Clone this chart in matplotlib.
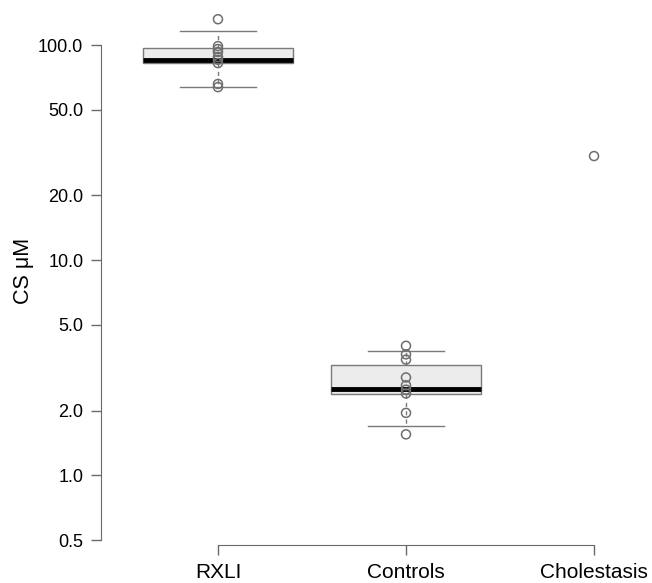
import matplotlib
matplotlib.use("Agg")
import matplotlib.pyplot as plt
import numpy as np

plt.rcParams['font.family'] = ['Liberation Sans', 'DejaVu Sans']

#------------------------------------------------------------------------------
# values (CS in uM)

groups = ["RXLI", "Controls", "Cholestasis"]

rxli = [132.0, 99.0, 96.0, 93.0, 88.0, 85.5, 82.5, 66.0, 63.8]
controls = [4.0, 3.65, 3.45, 2.85, 2.62, 2.5, 2.4, 1.95, 1.55]
cholestasis = [30.5]

# box summaries (lower whisker, q1, median, q3, upper whisker)
rxli_box = [63.8, 82.5, 85.4, 97.0, 116.0]
controls_box = [1.70, 2.38, 2.52, 3.24, 3.78]

yticks = [0.5, 1.0, 2.0, 5.0, 10.0, 20.0, 50.0, 100.0]

#------------------------------------------------------------------------------

fig = plt.figure(figsize=(6.52, 5.83), dpi=100)
ax = fig.add_axes([101.4 / 652, 38 / 583, 609.2 / 652, 532.6 / 583])

stats = []
for name, b in [("RXLI", rxli_box), ("Controls", controls_box)]:
  stats.append(dict(label=name, whislo=b[0], q1=b[1], med=b[2], q3=b[3],
                    whishi=b[4], fliers=[]))

ax.bxp(stats, positions=[1, 2], widths=0.8, patch_artist=True,
       showfliers=False,
       boxprops=dict(facecolor="#ececec", edgecolor="#7a7a7a", linewidth=1.0),
       medianprops=dict(color="black", linewidth=3.5, solid_capstyle="butt"),
       whiskerprops=dict(color="#7a7a7a", linewidth=1.0, linestyle=(0, (3, 3))),
       capprops=dict(color="#7a7a7a", linewidth=1.0),
       capwidths=0.4)

for i, vals in enumerate([rxli, controls, cholestasis]):
  ax.scatter(np.full(len(vals), i + 1), vals, s=42, facecolors="none",
             edgecolors="#6e6e6e", linewidths=1.1, zorder=5)

ax.set_yscale("log")
ax.set_xlim(0.38, 3.62)
ax.set_ylim(0.474, 142)

ax.set_yticks(yticks)
ax.set_yticklabels(["%.1f" % t for t in yticks], fontsize=13)
ax.yaxis.set_minor_locator(matplotlib.ticker.NullLocator())
ax.set_xticks([1, 2, 3])
ax.set_xticklabels(groups, fontsize=15)

for side in ["top", "right"]:
  ax.spines[side].set_visible(False)
ax.spines["left"].set_bounds(0.5, 100)
ax.spines["bottom"].set_bounds(1, 3)
for side in ["left", "bottom"]:
  ax.spines[side].set_color("#6a6a6a")
ax.tick_params(axis="both", colors="#6a6a6a", length=7, width=1,
               labelcolor="black")
ax.tick_params(axis="y", pad=6)
ax.tick_params(axis="x", pad=6)

ax.set_ylabel("CS μM", fontsize=15.5)
ax.yaxis.set_label_coords(-77.4 / 609.2, 0.514)
ax.yaxis.label.set_verticalalignment("center")

fig.savefig("out.png", dpi=100)
